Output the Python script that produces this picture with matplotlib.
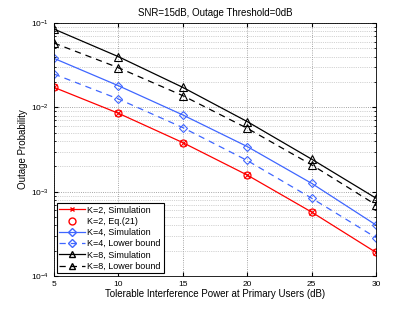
import matplotlib
matplotlib.use("Agg")
import matplotlib.pyplot as plt
from matplotlib.lines import Line2D

plt.rcParams["font.family"] = ["Liberation Sans", "DejaVu Sans"]
plt.rcParams["mathtext.fontset"] = "custom"
plt.rcParams["mathtext.rm"] = "Liberation Sans"

# Tolerable interference power (dB)
x = [5, 10, 15, 20, 25, 30]

k2_sim = [0.0173, 0.00853, 0.00383, 0.00158, 0.000575, 0.000191]
k2_eq = [0.0173, 0.00853, 0.00383, 0.00158, 0.000575, 0.000191]
k4_sim = [0.0382, 0.0181, 0.00815, 0.00344, 0.00126, 0.000404]
k4_lb = [0.0249, 0.0126, 0.00577, 0.00235, 0.00084, 0.000286]
k8_sim = [0.085, 0.040, 0.0173, 0.0068, 0.00244, 0.00084]
k8_lb = [0.058, 0.0296, 0.0138, 0.00566, 0.00209, 0.0007]

red = "#ff0000"
blue = "#3f66ff"

fig = plt.figure(figsize=(4.15, 3.12), dpi=100)
ax = fig.add_axes([0.130, 0.115, 0.776, 0.811])

ax.semilogy(x, k2_sim, color=red, marker="x", ms=4, lw=0.9, mew=0.8)
ax.semilogy(x, k2_eq, color=red, marker="o", ms=5, ls="none", mfc="none", mew=0.9)
ax.semilogy(x, k4_sim, color=blue, marker="D", ms=4.5, lw=0.9, mfc="none", mew=0.8)
ax.semilogy(x, k4_lb, color=blue, marker="D", ms=4.5, lw=0.9, ls=(0, (5, 4)), mfc="none", mew=0.8)
ax.semilogy(x, k8_sim, color="black", marker="^", ms=5.5, lw=0.9, mfc="none", mew=0.8)
ax.semilogy(x, k8_lb, color="black", marker="^", ms=5.5, lw=0.9, ls=(0, (5, 4)), mfc="none", mew=0.8)

ax.set_xlim(5, 30)
ax.set_ylim(1e-4, 1e-1)
ax.set_xticks([5, 10, 15, 20, 25, 30])

ax.grid(True, which="major", ls=":", color="#888888", lw=0.6)
ax.grid(True, which="minor", ls=":", color="#aaaaaa", lw=0.5)
ax.tick_params(which="both", direction="in", top=True, right=True, labelsize=6)
ax.tick_params(which="major", length=3)
ax.tick_params(which="minor", length=1.5)
for s in ax.spines.values():
    s.set_linewidth(0.6)

ax.set_title("SNR=15dB, Outage Threshold=0dB", fontsize=7, pad=5)
ax.set_xlabel("Tolerable Interference Power at Primary Users (dB)", fontsize=7, labelpad=1)
ax.set_ylabel("Outage Probability", fontsize=7, labelpad=2)

handles = [
    Line2D([], [], color=red, marker="x", ms=3, lw=0.9),
    Line2D([], [], color=red, marker="o", ms=5, ls="none", mfc="none"),
    Line2D([], [], color=blue, marker="D", ms=4, lw=0.9, mfc="none"),
    Line2D([], [], color=blue, marker="D", ms=4, lw=0.9, ls=(0, (5, 4)), mfc="none"),
    Line2D([], [], color="black", marker="^", ms=5, lw=0.9, mfc="none"),
    Line2D([], [], color="black", marker="^", ms=5, lw=0.9, ls=(0, (5, 4)), mfc="none"),
]
labels = ["K=2, Simulation", "K=2, Eq.(21)", "K=4, Simulation",
          "K=4, Lower bound", "K=8, Simulation", "K=8, Lower bound"]
leg = ax.legend(handles, labels, loc="lower left", fontsize=6.5, fancybox=False,
                framealpha=1, edgecolor="black", borderaxespad=0.3,
                handlelength=2.8, handletextpad=0.3, labelspacing=0.25,
                borderpad=0.3)
leg.get_frame().set_linewidth(0.8)

fig.savefig("out.png", dpi=100)
